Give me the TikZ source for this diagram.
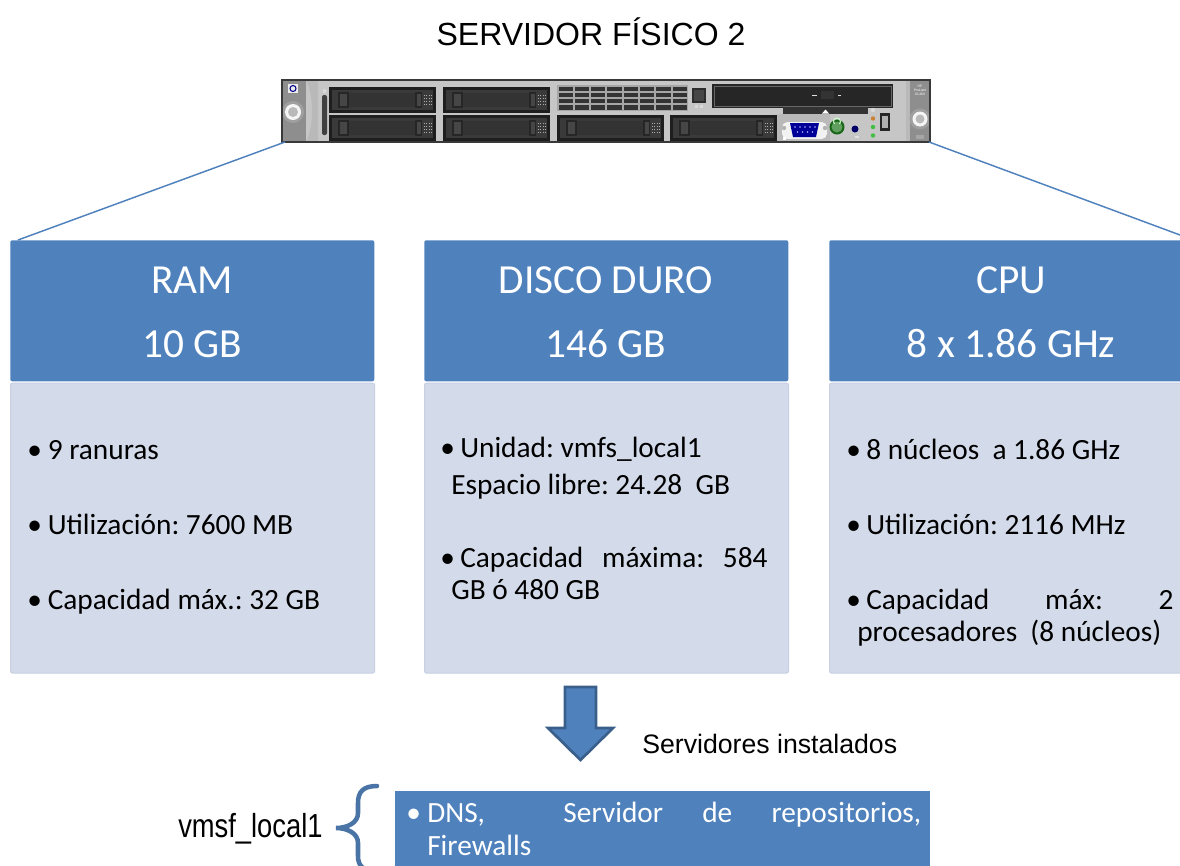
\documentclass[tikz,border=0pt]{standalone}
\usepackage{fontspec}
\setmainfont{Liberation Sans}
\newfontfamily\calib{Carlito}
\newfontfamily\arialn[FakeStretch=0.82]{Liberation Sans}
\usetikzlibrary{calc}
\frenchspacing

\definecolor{hdrblue}{HTML}{4F81BD}
\definecolor{bodyblue}{HTML}{D3DAE9}
\definecolor{bodyedge}{HTML}{C8D0E3}
\definecolor{arrowedge}{HTML}{3A5F8B}
\definecolor{bracecol}{HTML}{4A74A6}
\definecolor{chassisgray}{HTML}{C6C6C6}
\definecolor{eargray}{HTML}{8E8E8E}
\definecolor{darkbay}{HTML}{1E1E1E}
\definecolor{bayface}{HTML}{3A3A3A}

\tikzset{
  hdrbox/.style={fill=hdrblue, draw=none, rounded corners=1.5pt,
    minimum width=273pt, minimum height=105.75pt, inner sep=0pt, anchor=north west},
  bodybox/.style={fill=bodyblue, draw=bodyedge, line width=0.8pt, rounded corners=1.5pt,
    minimum width=273pt, minimum height=217.5pt, inner sep=0pt, anchor=north west},
  hdrtext/.style={text=white, font=\calib\fontsize{31}{36}\selectfont, inner sep=0pt, anchor=base},
  bodytext/.style={font=\calib\fontsize{22}{26}\selectfont, inner sep=0pt, anchor=base west},
  dnstext/.style={text=white, font=\calib\fontsize{22}{26}\selectfont, inner sep=0pt, anchor=base west},
  link/.style={draw=hdrblue, line width=1.1pt},
  titletext/.style={font=\fontsize{24}{28}\selectfont, inner sep=0pt, anchor=base},
  labeltext/.style={font=\fontsize{20}{24}\selectfont, inner sep=0pt, anchor=base west},
  narrowtext/.style={font=\arialn\fontsize{25}{30}\selectfont, inner sep=0pt, anchor=base west},
  blockarrow/.style={fill=hdrblue, draw=arrowedge, line width=2pt, line join=miter},
  bracestroke/.style={draw=bracecol, line width=3.4pt, line cap=round},
}

% one hot-swap drive bay, top-left corner at (#1,#2), 107 x 26
\newcommand\drivebay[2]{%
  \begin{scope}[shift={(#1,#2)}]
    \fill[darkbay] (0,0) rectangle (107,26);
    \fill[bayface] (3,3) rectangle (104,23);
    \fill[black!80] (20,6) rectangle (86,20);
    \fill[gray!40!black] (22,7.5) rectangle (84,18.5);
    \fill[black!85] (9,5) rectangle (20,21);
    \fill[gray!55!black] (11,7) rectangle (18,19);
    \fill[black!85] (86,5) rectangle (93,21);
    \fill[gray!55!black] (87.5,7) rectangle (91.5,19);
    \foreach \i in {0,1,2,3}{\foreach \j in {0,1,2,3}{
      \fill[gray!65] (95+\i*2.3,8+\j*3) rectangle ++(1,1.2);}}
  \end{scope}}

\begin{document}
\begin{tikzpicture}[x=0.75pt,y=-0.75pt]
\useasboundingbox (0,0) rectangle (1180,865);
\clip (0,0) rectangle (1180,865);

% heading
\node[titletext] (title) at (591,45) {SERVIDOR FÍSICO 2};

% ---------- rack server front panel ----------
\fill[chassisgray] (282,80) rectangle (930,142);
% left ear with logo and thumbscrew
\fill[eargray] (282,80) rectangle (306,142);
\fill[gray!55] (306,80) .. controls (314,95) and (314,127) .. (306,142) -- (318,142) -- (318,80) -- cycle;
\fill[white!85!gray] (288,84) rectangle (298,93);
\draw[blue!55!black, line width=0.8pt] (293,88.5) circle[radius=3];
\fill[gray!75] (293,112) circle[radius=11];
\fill[white!92!gray] (293,112) circle[radius=8];
\fill[gray!55] (293,112) circle[radius=5];
% status light pipe
\fill[gray!50!black, rounded corners=1.5pt] (322,95) rectangle (327,135);
\fill[gray!30] (324.5,91) circle[radius=2];
% drive bays
\drivebay{329}{87}
\drivebay{329}{114.5}
\drivebay{443}{87}
\drivebay{443}{114.5}
\drivebay{557}{114.5}
\drivebay{670}{114.5}
% ventilation grille
\fill[gray!70] (557,85) rectangle (688,111);
\foreach \c in {0,...,7}{\foreach \r in {0,...,3}{
  \fill[black!80] (558.5+\c*16.3,86.5+\r*6.2) rectangle ++(14.3,4.4);}}
% UID button
\fill[gray!35!black] (692,88) rectangle (706,103);
\fill[gray!55!black] (694,90) rectangle (704,101);
\fill[gray!30] (695,105) rectangle ++(3,2.5);
\fill[gray!30] (700,105) rectangle ++(3,2.5);
% optical drive and tray
\fill[black!85] (712,84) rectangle (893,108);
\draw[black!60, line width=0.6pt] (714,86) rectangle (891,106);
\fill[gray!40!black] (821,91) rectangle (834,99);
\fill[gray!25] (812,94.5) rectangle ++(5,1.2);
\fill[gray!25] (838,94.5) rectangle ++(3,1.2);
\fill[black!80] (783,107) rectangle (868,116);
\fill[white] (822,113.5) -- (825.5,109.5) -- (829,113.5) -- cycle;
% rear I/O area
\fill[gray!55] (777,114) rectangle (830,142);
\fill[gray!45] (830,114) rectangle (906,142);
% VGA port
\fill[white!90!gray, rounded corners=4pt] (782,122) rectangle (827,139);
\fill[gray!60] (784,128) circle[radius=2.2];
\fill[gray!60] (825,128) circle[radius=2.2];
\fill[blue!60!black] (790,123) -- (819,123) -- (816,137) -- (793,137) -- cycle;
\foreach \k in {0,...,4}{\fill[white!70!blue] (795+\k*5,127) circle[radius=0.8];}
\foreach \k in {0,...,3}{\fill[white!70!blue] (797.5+\k*5,132) circle[radius=0.8];}
\fill[white] (783,140) rectangle ++(3,-3);
% power and UID buttons, LEDs, USB
\fill[gray!40!green!50!black] (837,127) circle[radius=7.5];
\fill[green!25!gray] (837,127) circle[radius=5.5];
\draw[white!80!green, line width=0.8pt] (834.5,124) arc[start angle=135, end angle=405, radius=3.5];
\fill[blue!40!black] (855,129) circle[radius=3.5];
\fill[gray!25] (855,136) rectangle ++(4,1.5);
\foreach \k/\col in {0/gray!30, 1/orange!60!gray, 2/green!50!gray, 3/green!50!gray}{
  \fill[\col] (873,110+\k*8.5) circle[radius=2.2];}
\fill[black!85] (880,113) rectangle (890,131);
\fill[gray!60] (882,116) rectangle (888,128);
% right ear
\fill[gray!55] (906,80) rectangle (910,142);
\fill[eargray] (910,80) rectangle (930,142);
\node[inner sep=0pt, font=\fontsize{2.5}{3}\selectfont, text=white, align=center] (model) at (920,90) {HP\\ProLiant\\DL360};
\fill[gray!75] (920,119) circle[radius=10.5];
\fill[white!92!gray] (920,119) circle[radius=7.5];
\fill[gray!55] (920,119) circle[radius=4.5];
\fill[gray!70] (916,135) rectangle (924,139);
\draw[gray!45!black, line width=0.8pt] (282,80) rectangle (930,142);

\coordinate (srvL) at (285,142);
\coordinate (srvR) at (929,142);

% ---------- resource boxes ----------
\node[hdrbox] (ramhdr) at (10,240) {};
\node[bodybox] (rambody) at (10,382.5) {};
\node[hdrbox] (diskhdr) at (424,240) {};
\node[bodybox] (diskbody) at (424,382.5) {};
\node[hdrbox] (cpuhdr) at (829,240) {};
\node[bodybox] (cpubody) at (829,382.5) {};

\draw[link] (srvL) -- ($(ramhdr.north west)+(8,0)$);
\draw[link] (srvR) -- (cpuhdr.north east);

% RAM
\node[hdrtext] (ramt1) at (192,293) {RAM};
\node[hdrtext] (ramt2) at (192,357) {10 GB};
\node[bodytext] (ramb1) at (27,459) {•};
\node[bodytext] (ram1) at (47.5,459) {9 ranuras};
\node[bodytext] (ramb2) at (27,534) {•};
\node[bodytext] (ram2) at (47.5,534) {Utilización: 7600 MB};
\node[bodytext] (ramb3) at (27,609) {•};
\node[bodytext] (ram3) at (47.5,609) {Capacidad máx.: 32 GB};

% hard disk
\node[hdrtext] (diskt1) at (606,293) {DISCO DURO};
\node[hdrtext] (diskt2) at (606,357) {146 GB};
\node[bodytext] (diskb1) at (440,457) {•};
\node[bodytext] (disk1) at (460,457) {Unidad: vmfs\_local1};
\node[bodytext] (disk1b) at (451,494) {Espacio libre: 24.28~ GB};
\node[bodytext] (diskb2) at (440,567) {•};
\node[bodytext] (disk2) at (460,567) {\hbox to 230.5pt{Capacidad\hfill máxima:\hfill 584}};
\node[bodytext] (disk2b) at (451,599) {GB ó 480 GB};

% CPU
\node[hdrtext] (cput1) at (1011,293) {CPU};
\node[hdrtext] (cput2) at (1011,357) {8 x 1.86 GHz};
\node[bodytext] (cpub1) at (846,459) {•};
\node[bodytext] (cpu1) at (866,459) {8 núcleos~ a 1.86 GHz};
\node[bodytext] (cpub2) at (846,534) {•};
\node[bodytext] (cpu2) at (866,534) {Utilización: 2116 MHz};
\node[bodytext] (cpub3) at (846,609) {•};
\node[bodytext] (cpu3) at (866,609) {\hbox to 230.5pt{Capacidad\hfill máx:\hfill 2}};
\node[bodytext] (cpu3b) at (857,641) {procesadores~ (8 núcleos)};

% ---------- installed servers ----------
\draw[blockarrow] (565,687) -- (596,687) -- (596,728) -- (613,728) -- (580.5,760)
  -- (548,728) -- (565,728) -- cycle;
\node[labeltext] (installed) at (642,753) {Servidores instalados};

\node[fill=hdrblue, minimum width=401pt, minimum height=75pt, inner sep=0pt,
  anchor=north west] (dnsbox) at (395,791) {};
\node[dnstext] (dnsb) at (406,822) {•};
\node[dnstext] (dns1) at (427,822) {\hbox to 370.5pt{DNS,\hfill\hfill Servidor\hfill de\hfill repositorios,}};
\node[dnstext] (dns2) at (427,855) {Firewalls};

\draw[bracestroke] (377,786) .. controls (363,786) and (358,792) .. (358,803)
  -- (358,813) .. controls (358,823) and (347,828) .. (336,828)
  .. controls (347,828) and (358,833) .. (358,843)
  -- (358,856) .. controls (358,866) and (363,871) .. (377,871);
\node[narrowtext] (volume) at (178,837) {vmsf\_local1};
\end{tikzpicture}
\end{document}
